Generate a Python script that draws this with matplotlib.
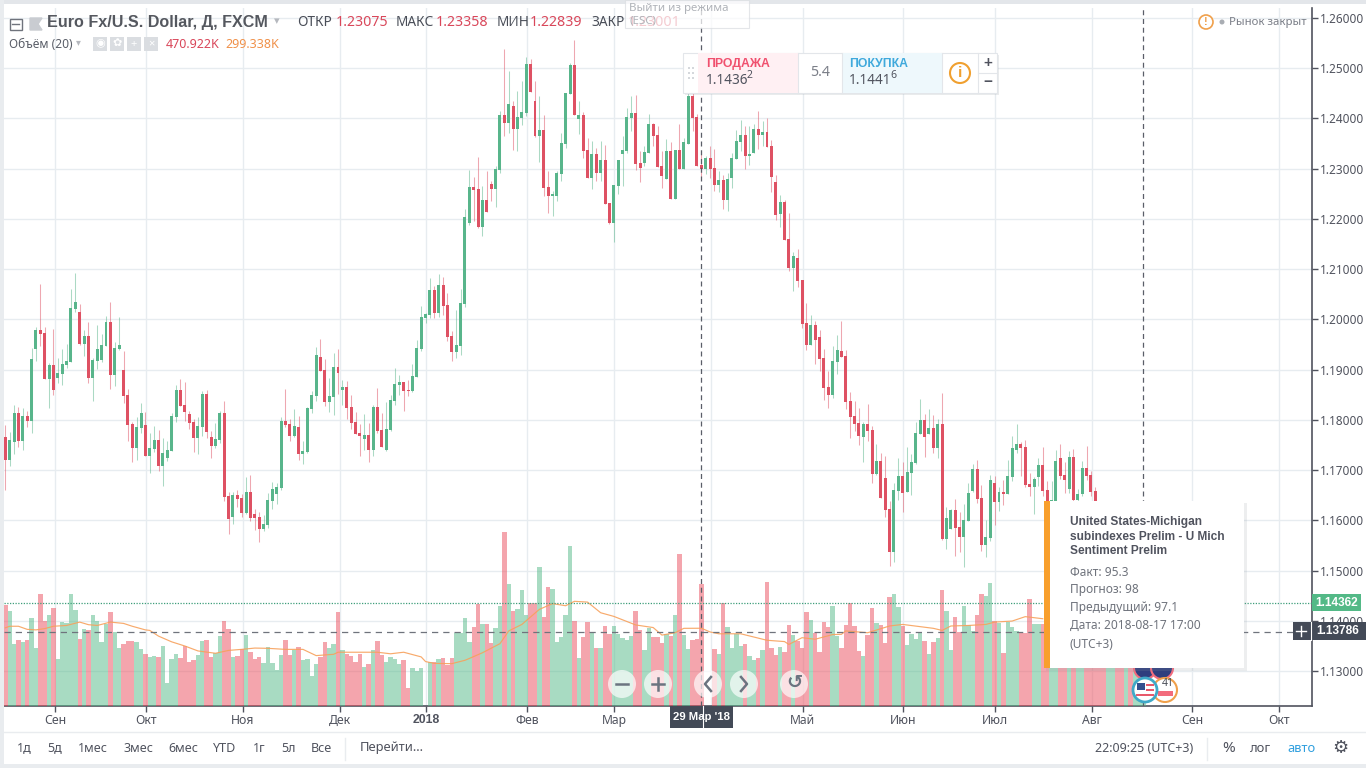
import numpy as np
import matplotlib
matplotlib.use('Agg')
import matplotlib.pyplot as plt
from matplotlib.patches import Rectangle, Circle

plt.rcParams['font.family'] = ['Noto Sans', 'DejaVu Sans']
BOLD_FONT = ['Liberation Sans', 'DejaVu Sans']

# prices in 1/10000
opens = [11765,11721,11755,11813,11757,11807,11797,11941,11979,11973,
11881,11909,11883,11891,11909,11915,12021,12015,11951,11967,
11883,11917,11919,11947,11995,11889,11941,11899,11849,11791,
11743,11783,11789,11729,11741,11759,11709,11725,11737,11805,
11859,11829,11811,11795,11763,11785,11851,11765,11747,11759,
11813,11649,11607,11651,11645,11615,11657,11613,11607,11583,
11591,11639,11653,11665,11797,11791,11767,11785,11731,11735,
11821,11847,11925,11899,11835,11845,11905,11859,11865,11825,
11795,11773,11761,11769,11739,11825,11779,11739,11779,11837,
11869,11875,11859,11857,11885,11941,12003,12009,12059,12013,
12069,12029,11967,11935,11947,12031,12191,12263,12259,12183,
12237,12269,12259,12297,12407,12391,12425,12379,12401,12411,
12509,12435,12365,12377,12263,12245,12245,12289,12349,12449,
12507,12399,12407,12337,12281,12329,12291,12317,12231,12191,
12265,12329,12335,12401,12411,12311,12311,12331,12389,12367,
12305,12279,12335,12239,12337,12299,12349,12445,12403,12307.5,
12299,12321,12301,12267,12277,12237,12281,12319,12353,12367,
12325,12331,12379,12367,12373,12345,12273,12209,12233,12161,
12103,12123,12079,11993,11949,11989,11965,11923,11865,11849,
11915,11937,11927,11837,11807,11793,11765,11791,11779,11693,
11719,11685,11623,11537,11659,11689,11657,11695,11715,11771,
11799,11771,11783,11743,11791,11563,11583,11621,11587,11567,
11599,11659,11703,11645,11551,11565,11675,11637,11657,11653,
11687,11739,11751,11745,11673,11667,11687,11711,11661,11615,
11637,11725,11691,11662,11727,11641,11653,11705,11691,11659]

highs = [11789,11775,11829,11825,11823,11817,11943,11985,12071,11985,
11913,11981,11923,11941,11951,12061,12093,12031,11979,11995,
11923,11989,11971,12007,12035,11955,12005,11937,11861,11795,
11805,11833,11815,11773,11787,11779,11763,11757,11813,11869,
11881,11875,11817,11801,11805,11857,11859,11777,11793,11817,
11837,11657,11657,11661,11653,11687,11691,11623,11617,11611,
11655,11677,11675,11805,11861,11801,11821,11807,11757,11825,
11857,11945,11961,11921,11883,11933,11941,11879,11877,11849,
11815,11791,11811,11793,11829,11863,11813,11835,11849,11903,
11889,11875,11879,11911,11959,12027,12013,12083,12067,12091,
12085,12053,11977,12019,12061,12219,12297,12283,12323,12265,
12295,12275,12305,12415,12539,12495,12435,12455,12475,12523,
12519,12475,12445,12407,12295,12255,12295,12371,12451,12511,
12557,12435,12413,12361,12355,12341,12355,12347,12231,12267,
12317,12365,12421,12445,12447,12335,12345,12409,12391,12385,
12335,12359,12353,12337,12389,12361,12455,12455,12408,12335.8,
12325,12345,12339,12295,12287,12291,12331,12377,12397,12385,
12385,12389,12415,12395,12401,12357,12287,12247,12237,12211,
12135,12141,12079,12033,12009,11997,11979,11941,11897,11947,
11969,11997,11939,11855,11837,11823,11795,11831,11787,11751,
11733,11729,11639,11675,11725,11717,11745,11731,11795,11841,
11811,11821,11809,11801,11853,11627,11623,11643,11617,11633,
11675,11713,11721,11671,11601,11691,11689,11667,11681,11721,
11767,11791,11755,11759,11695,11687,11725,11745,11679,11679,
11739,11751,11717,11737,11741,11663,11719,11747,11699,11667]

lows = [11661,11709,11731,11745,11739,11785,11773,11917,11947,11881,
11823,11849,11873,11869,11903,11915,12015,11949,11927,11873,
11837,11901,11915,11947,11861,11867,11939,11833,11757,11717,
11721,11773,11729,11695,11735,11699,11669,11719,11737,11795,
11827,11797,11781,11735,11731,11767,11763,11725,11743,11753,
11639,11573,11593,11627,11607,11613,11599,11581,11557,11579,
11585,11623,11633,11661,11785,11757,11765,11721,11713,11733,
11813,11837,11897,11827,11815,11809,11851,11829,11801,11781,
11771,11729,11739,11717,11729,11773,11745,11737,11777,11829,
11849,11817,11847,11855,11885,11937,11993,12003,12003,12005,
12009,11957,11917,11923,11929,12025,12187,12195,12181,12165,
12213,12235,12223,12291,12365,12371,12337,12335,12387,12405,
12453,12363,12313,12245,12211,12205,12235,12275,12341,12449,
12407,12369,12321,12281,12259,12275,12275,12229,12189,12155,
12249,12265,12331,12375,12297,12273,12305,12331,12345,12303,
12261,12279,12239,12239,12299,12299,12349,12375,12305,12283.9,
12290,12281,12255,12253,12219,12215,12261,12319,12335,12299,
12307,12331,12339,12345,12343,12253,12197,12183,12159,12097,
12057,12065,11983,11939,11949,11911,11897,11839,11823,11843,
11891,11925,11821,11763,11777,11749,11717,11757,11675,11691,
11645,11607,11509,11517,11641,11617,11657,11651,11713,11771,
11727,11771,11733,11725,11561,11543,11583,11529,11537,11507,
11599,11657,11635,11539,11527,11559,11591,11619,11631,11653,
11679,11733,11689,11667,11649,11613,11669,11649,11625,11610,
11625,11683,11655,11655,11637,11637,11649,11681,11649,11600]

closes = [11721,11759,11813,11757,11807,11797,11921,11979,11971,11881,
11909,11859,11893,11911,11917,12023,12035,11951,11967,11883,
11919,11941,11949,11995,11889,11943,11949,11847,11789,11743,
11785,11813,11729,11743,11759,11709,11733,11739,11807,11859,
11827,11815,11793,11763,11787,11851,11775,11747,11761,11813,
11647,11603,11651,11643,11615,11657,11605,11605,11583,11593,
11641,11663,11667,11797,11789,11767,11787,11731,11737,11823,
11849,11929,11897,11835,11847,11905,11893,11865,11823,11793,
11771,11767,11769,11739,11825,11777,11745,11781,11839,11871,
11875,11857,11857,11887,11943,12005,12011,12059,12013,12069,
12027,11965,11935,11949,12033,12203,12263,12257,12183,12237,
12213,12259,12299,12407,12391,12429,12379,12403,12413,12509,
12453,12365,12377,12261,12245,12249,12291,12351,12451,12507,
12407,12407,12335,12281,12329,12291,12317,12229,12191,12267,
12317,12337,12403,12411,12309,12301,12333,12389,12365,12303,
12285,12335,12239,12337,12299,12353,12445,12401,12305,12300.1,
12321,12299,12267,12277,12237,12279,12321,12355,12367,12325,
12329,12379,12367,12373,12343,12283,12207,12233,12159,12103,
12127,12077,11991,11949,11989,11959,11921,11863,11849,11917,
11939,11925,11835,11805,11791,11767,11791,11777,11693,11719,
11645,11621,11537,11661,11689,11655,11697,11717,11773,11799,
11765,11783,11743,11791,11563,11605,11621,11585,11567,11601,
11655,11703,11643,11551,11567,11681,11637,11657,11653,11689,
11743,11751,11743,11671,11667,11683,11711,11659,11635,11641,
11719,11689,11681,11727,11641,11653,11705,11689,11657,11610]

# volume in thousands, includes the bars sitting under the tooltip
volumes = [389,366,239,254,246,254,339,223,431,327,
350,377,181,323,319,431,369,258,296,293,
350,327,246,316,362,285,223,239,250,250,
246,219,200,189,192,189,231,89,181,200,
185,231,169,177,196,250,254,189,204,269,
327,296,189,192,219,273,208,181,189,166,
227,166,139,196,254,196,216,227,177,181,
115,162,189,246,223,239,362,216,200,192,
169,200,150,162,216,250,196,169,189,181,
162,177,69,146,135,146,0,169,169,181,
185,158,185,281,281,339,246,304,393,316,
316,242,300,385,670,470,366,373,446,350,
396,396,535,343,458,450,246,266,350,616,
327,185,266,323,285,223,223,308,277,308,
277,262,254,269,366,293,216,300,266,266,
242,277,269,350,585,273,219,254,258,470.922,
0,0,219,200,396,304,223,277,231,239,
192,177,185,216,477,223,196,227,208,312,
273,250,223,362,331,281,208,323,304,385,
269,225,312,396,308,212,192,273,377,319,
312,242,420,431,381,308,235,277,258,281,
250,200,246,262,446,366,216,343,285,385,
312,289,350,431,423,473,327,319,204,323,
304,289,281,281,412,316,316,316,300,290,
320,280,310,240,300,270,330,280,360,300,
340,290,250,240,310,330,280,300,260,310,290]
hidden_up = [False,False,True,True,False,False,True,False,True,True,True]

# Volume MA(20), read at the bars where the line bends
ma_idx = [0,1,3,5,7,9,11,14,17,19,21,24,27,29,32,33,35,38,41,44,48,51,54,57,60,64,68,71,75,76,80,85,88,91,95,
96,98,102,105,106,109,113,115,118,122,125,128,130,133,136,139,144,148,150,153,155,159,161,163,168,174,178,179,182,185,189,191,
192,197,202,205,212,214,216,220,224,226,230,233,237]
ma_vals = [301,307,307,295,293,298,307,310,323,313,310,323,318,307,293,291,269,247,231,212,203,214,218,223,222,218,218,194,199,207,207,207,201,207,189,
171,164,163,176,183,205,240,289,314,372,394,386,403,400,359,345,312,302,273,282,299,299.338,285,278,278,253,248,237,263,257,275,276,
289,282,308,314,299,291,308,310,314,323,327,344,336]

month_ticks = [11.4,32.1,54.3,76.4,96.1,119.2,139.1,161.2,182.2,205.1,226.1,248.2,271.1,291.0]
month_labels = ['Сен','Окт','Ноя','Дек','2018','Фев','Мар','Апр','Май','Июн','Июл','Авг','Сен','Окт']
price_ticks = [1.13,1.14,1.15,1.16,1.17,1.18,1.19,1.20,1.21,1.22,1.23,1.24,1.25,1.26]

last_price = 1.14362
cross_price = 1.13786
cross_bar = 159
last_bar = 260

UP = '#53B987'
DOWN = '#EB4D5C'
BODY_UP = '#58B58B'
BODY_DOWN = '#DE5163'
GRID = '#E7ECF0'
TXT = '#50535E'
W, H = 1366, 768


def axbox(x0, y0, x1, y1):
    return [x0 / W, 1 - y1 / H, (x1 - x0) / W, (y1 - y0) / H]


fig = plt.figure(figsize=(13.66, 7.68), dpi=100, facecolor='white')

#main price axes
ax = fig.add_axes(axbox(4, 8, 1312, 706))
ax.set_xlim(-0.3, 298.5)
ax.set_ylim(1.12303, 1.26199)
ax.yaxis.tick_right()
ax.set_yticks(price_ticks)
ax.set_yticklabels(['%.5f' % p for p in price_ticks])
ax.set_xticks(month_ticks)
ax.set_xticklabels(month_labels)
ax.grid(True, color=GRID, lw=1.0)
ax.set_axisbelow(True)
ax.tick_params(axis='both', length=4, width=1, color=TXT, labelcolor=TXT, labelsize=8.5, pad=2)
ax.tick_params(axis='x', labelsize=8.8, pad=1.5)
ax.get_xticklabels()[4].set_fontweight('bold')
ax.get_xticklabels()[4].set_family(BOLD_FONT)
for s in ['top', 'left']:
    ax.spines[s].set_visible(False)
for s in ['right', 'bottom']:
    ax.spines[s].set_color(TXT)
    ax.spines[s].set_linewidth(1.2)

o = np.array(opens) / 10000
h = np.array(highs) / 10000
l = np.array(lows) / 10000
c = np.array(closes) / 10000
idx = np.arange(len(o))
up = c >= o
cols = [BODY_UP if u else BODY_DOWN for u in up]

ax.vlines(idx, l, h, colors=cols, lw=0.75, alpha=0.5, zorder=3)
ax.bar(idx, np.maximum(np.abs(c - o), 0.00015), bottom=np.minimum(o, c), width=0.68, color=cols, lw=0, zorder=4)

#volume on its own scale, 0 at the bottom of the chart
vol = fig.add_axes(axbox(4, 8, 1312, 706), sharex=ax, facecolor='none')
vol.set_ylim(0, 2687)
vol.axis('off')
vol_up = list(up) + hidden_up
vol_cols = [UP if u else DOWN for u in vol_up]
vol.bar(np.arange(len(volumes)), volumes, width=1.0, color=vol_cols, alpha=0.5, lw=0, zorder=2)
vol.plot(ma_idx, ma_vals, color='#F7A15C', lw=0.85, alpha=0.9, zorder=3)

vol.plot([-0.3, 298.5], [last_price] * 2, transform=ax.transData, color='#3E9E7B', lw=0.9, ls=(0, (1, 1.2)), zorder=4)
vol.plot([-0.3, 298.5], [cross_price] * 2, transform=ax.transData, color='#6F737C', lw=0.9, ls=(0, (5, 4)), zorder=4)
vol.axvline(cross_bar, color='#5A5E68', lw=0.9, ls=(0, (4, 3)), zorder=4)
vol.axvline(last_bar, color='#5A5E68', lw=0.9, ls=(0, (4, 3)), zorder=4)

#page furniture on top, in pixel coordinates
ui = fig.add_axes([0, 0, 1, 1], facecolor='none')
ui.set_xlim(0, W)
ui.set_ylim(H, 0)
ui.axis('off')


def rect(x0, y0, x1, y1, fc, ec='none', lw=0, alpha=None, z=5):
    ui.add_patch(Rectangle((x0, y0), x1 - x0, y1 - y0, fc=fc, ec=ec, lw=lw, alpha=alpha, zorder=z))


def txt(x, y, s, color=TXT, size=9.3, ha='left', weight='normal', z=9):
    fam = BOLD_FONT if weight == 'bold' else plt.rcParams['font.family']
    ui.text(x, y, s, color=color, fontsize=size, ha=ha, va='center', fontweight=weight, family=fam, zorder=z)


#outer grey frame
rect(0, 0, W, 4, '#E3E6EA')
rect(0, 0, 4, H, '#E9ECEF')
rect(0, 764, W, H, '#E9ECEF')
ui.plot([4, W], [732, 732], color='#E9ECEF', lw=1, zorder=5)

#header
rect(9.5, 18.5, 21.5, 29.5, 'white', '#6F737C', 1)
ui.plot([12, 19], [24, 24], color='#6F737C', lw=1, zorder=6)
ui.fill([30, 42, 38, 42, 30], [18, 18, 24, 30, 30], color='#C9CCD1', zorder=6)
txt(47, 23, 'Euro Fx/U.S. Dollar, Д, FXCM', '#55585F', 11.6, weight='bold')
txt(277, 22, '▾', '#B5B8BE', 8, ha='center')
vals = [('ОТКР', 297, '1.23075', 336), ('МАКС', 396, '1.23358', 436), ('МИН', 497, '1.22839', 530), ('ЗАКР', 591, '1.23001', 628)]
for lab, x1, v, x2 in vals:
    txt(x1, 23, lab, '#4A4E58', 9.8)
    txt(x2, 23, v, '#D9475A', 10.2)
txt(9, 44, 'Объём (20)', '#5A5E68', 8.6)
txt(78, 43, '▾', '#B5B8BE', 7, ha='center')
for x0, g in zip([93, 110, 127, 144], ['◉', '✿', '+', '×']):
    rect(x0, 37, x0 + 14, 51, '#DADDE1')
    ui.text(x0 + 7, 44, g, color='white', fontsize=8, ha='center', va='center', zorder=6, fontweight='bold')
txt(166, 44, '470.922K', '#D9475A', 9.0)
txt(225, 44, '299.338K', '#F0914A', 9.0)

#exit fullscreen hint
rect(625, 0, 749, 28, 'white', '#DADDE1', 0.8, alpha=0.72, z=10)
txt(629, 8, 'Выйти из режима', '#B0B3B9', 8.3, z=11)
txt(629, 21, '(ESC)', '#B0B3B9', 8.3, z=11)

#market status
ui.add_patch(Circle((1206, 22), 7, fc='white', ec='#F0A04B', lw=1.2, zorder=6))
txt(1206, 22, '!', '#F0A04B', 8, ha='center', weight='bold')
ui.add_patch(Circle((1222, 22), 2.5, fc='#A9ADB3', ec='none', zorder=6))
txt(1229, 22, 'Рынок закрыт', '#7B7F88', 8.2)

#buy / sell panel
rect(685, 55, 999, 95, '#9098A0', alpha=0.18, z=11)
rect(683, 53, 997, 93, 'white', '#E3E6EA', 0.8, z=12)
rect(698, 53, 798, 93, '#FFF0F3', z=13)
rect(842, 53, 942, 93, '#EEF8FC', z=13)
for xx in [798, 842, 942, 978]:
    ui.plot([xx, xx], [53, 93], color='#E3E6EA', lw=0.8, zorder=14)
ui.plot([978, 997], [73, 73], color='#E3E6EA', lw=0.8, zorder=14)
for gx in [689, 693]:
    for gy in [68, 73, 78]:
        rect(gx - 1, gy - 1, gx + 1, gy + 1, '#D5D8DC', z=14)
txt(706, 64, 'ПРОДАЖА', '#F0506E', 8.8, weight='bold', z=15)
txt(706, 80, '1.1436', '#50535E', 9.8, z=15)
txt(747, 76, '2', '#50535E', 7.5, z=15)
txt(820, 73, '5.4', '#7B7F88', 10.2, ha='center', z=15)
txt(849, 64, 'ПОКУПКА', '#3FA9DC', 8.8, weight='bold', z=15)
txt(849, 80, '1.1441', '#50535E', 9.8, z=15)
txt(890, 76, '6', '#50535E', 7.5, z=15)
ui.add_patch(Circle((960, 73), 10, fc='white', ec='#F0A030', lw=1.5, zorder=15))
txt(960, 73, 'i', '#F0A030', 11, ha='center', weight='bold', z=16)
txt(988, 63, '+', '#50535E', 11, ha='center', weight='bold', z=15)
txt(988, 82, '−', '#50535E', 11, ha='center', weight='bold', z=15)

#calendar flags at the last bars
for fx in [1145, 1162]:
    ui.add_patch(Circle((fx, 668), 11, fc='#2F3E7E', ec='#F26C7D', lw=1.5, zorder=6))
ui.add_patch(Circle((1165, 690), 12, fc='white', ec='#F0A04B', lw=1.5, zorder=6))
rect(1158, 691, 1173, 696, '#F26C7D', z=7)
ui.add_patch(Circle((1145, 690), 12, fc='white', ec='#3FA9C8', lw=2, zorder=8))
rect(1137, 683, 1145, 690, '#34508E', z=8.5)
for ry in [684, 689, 694]:
    rect(1146, ry, 1154, ry + 2.4, '#E8596B', z=8.5)
rect(1136, 694, 1153, 696.4, '#E8596B', z=8.5)
txt(1168, 684, '41', '#4A4E58', 7.5, ha='center', z=9)

#event tooltip
rect(1046, 503, 1247, 671, '#9098A0', alpha=0.16, z=10)
rect(1044, 501, 1244, 668, 'white', z=11)
rect(1044, 501, 1050, 668, '#F89F2C', z=12)
for yy, line in zip([522, 536.5, 551], ['United States-Michigan', 'subindexes Prelim - U Mich', 'Sentiment Prelim']):
    txt(1070, yy, line, '#50535E', 8.6, weight='bold', z=13)
for yy, line in zip([572, 590, 607, 625, 644], ['Факт: 95.3', 'Прогноз: 98', 'Предыдущий: 97.1', 'Дата: 2018-08-17 17:00', '(UTC+3)']):
    txt(1070, yy, line, '#6F737C', 8.6, z=13)

#price labels on the axis
rect(1312, 594, 1361, 611, UP, z=11)
txt(1336.5, 602.5, '%.5f' % last_price, 'white', 8.6, ha='center', weight='bold', z=12)
rect(1293, 622, 1366, 640, '#434A57', z=11)
ui.plot([1311, 1311], [622, 640], color='white', lw=0.8, zorder=12)
ui.plot([1296, 1306], [631, 631], color='white', lw=1, zorder=12)
ui.plot([1301, 1301], [626, 636], color='white', lw=1, zorder=12)
txt(1338, 631, '%.5f' % cross_price, 'white', 8.6, ha='center', weight='bold', z=12)

#crosshair date label
rect(670, 706, 733, 728, '#434A57', z=11)
ui.plot([702.5, 702.5], [706, 728], color='white', lw=0.8, zorder=12)
txt(701.5, 717, "29 Мар '18", 'white', 8.2, ha='center', weight='bold', z=13)

#chart nav buttons
NAV = '#6B7480'
for bx in [622, 658, 708, 744, 794]:
    ui.add_patch(Circle((bx, 684), 14, fc='white', ec='none', alpha=0.68, zorder=9))
ui.plot([616, 628], [684, 684], color=NAV, lw=1.8, zorder=10)
ui.plot([652, 664], [684, 684], color=NAV, lw=1.8, zorder=10)
ui.plot([658, 658], [678, 690], color=NAV, lw=1.8, zorder=10)
ui.plot([711, 705, 711], [677, 684, 691], color=NAV, lw=1.8, zorder=10)
ui.plot([741, 747, 741], [677, 684, 691], color=NAV, lw=1.8, zorder=10)
ui.text(794, 683, '↺', color=NAV, fontsize=14, ha='center', va='center', fontweight='bold', zorder=10)

#bottom toolbar
for x0, s in zip([17, 47, 78, 123, 168, 213, 253, 281, 311], ['1д', '5д', '1мес', '3мес', '6мес', 'YTD', '1г', '5л', 'Все']):
    txt(x0, 748, s, '#50535E', 9.0)
ui.plot([345, 345], [738, 760], color='#E9ECEF', lw=1, zorder=5)
txt(360, 748, 'Перейти...', '#50535E', 9.3)
txt(1095, 748, '22:09:25 (UTC+3)', '#50535E', 9.0)
ui.plot([1207, 1207], [738, 760], color='#E9ECEF', lw=1, zorder=5)
txt(1229, 748, '%', '#50535E', 11, ha='center')
txt(1261, 748, 'лог', '#50535E', 9.3, ha='center')
txt(1301, 748, 'авто', '#2F9FDE', 9.3, ha='center')
txt(1340, 748, '⚙', '#50535E', 13, ha='center')

fig.savefig('out.png', dpi=100)
